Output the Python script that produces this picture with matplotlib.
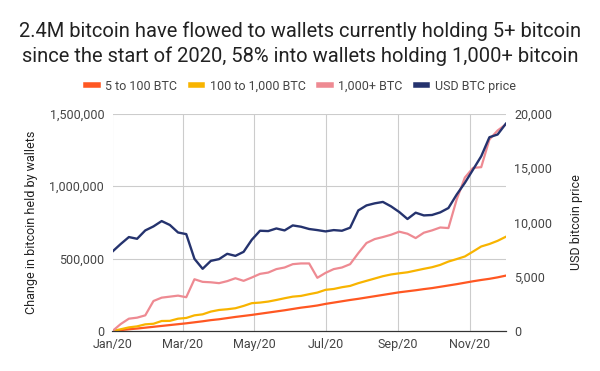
import matplotlib
matplotlib.use('Agg')
import matplotlib.pyplot as plt
import matplotlib.dates as mdates
from matplotlib.ticker import FuncFormatter
import pandas as pd

plt.rcParams['font.family'] = ['Roboto', 'DejaVu Sans']

# weekly observations, Jan 1 -> Dec 2 2020
dates = pd.date_range('2020-01-01', periods=49, freq='7D')

small = [0, 6000, 12000, 17000, 23000, 29000, 35000, 41000, 47000, 53000,
         60000, 67000, 75000, 81000, 89000, 97000, 104000, 111000, 119000, 127000,
         135000, 143000, 152000, 161000, 168000, 176000, 187000, 196000, 205000, 214000,
         222000, 231000, 240000, 249000, 258000, 267000, 274000, 281000, 289000, 296000,
         305000, 314000, 323000, 333000, 343000, 352000, 360000, 370000, 382000]

medium = [0, 12000, 25000, 32000, 46000, 50000, 69000, 70000, 85000, 90000,
          108000, 115000, 134000, 145000, 150000, 157000, 173000, 192000, 196000, 203000,
          214000, 226000, 237000, 242000, 254000, 265000, 284000, 290000, 302000, 311000,
          330000, 346000, 362000, 378000, 390000, 398000, 405000, 417000, 429000, 440000,
          456000, 479000, 496000, 514000, 548000, 583000, 600000, 622000, 650000]

large = [0, 48000, 85000, 92000, 108000, 207000, 230000, 237000, 244000, 233000,
         357000, 339000, 336000, 330000, 344000, 364000, 346000, 369000, 394000, 403000,
         427000, 438000, 461000, 466000, 466000, 367000, 401000, 427000, 438000, 461000,
         537000, 607000, 634000, 648000, 664000, 685000, 671000, 641000, 678000, 694000,
         714000, 710000, 906000, 1058000, 1125000, 1130000, 1321000, 1383000, 1425000]

price = [7310, 8000, 8640, 8480, 9250, 9620, 10110, 9750, 9060, 8910,
         6640, 5720, 6450, 6610, 7100, 6910, 7280, 8390, 9220, 9190,
         9430, 9250, 9710, 9590, 9380, 9280, 9160, 9280, 9220, 9500,
         11090, 11550, 11740, 11870, 11460, 10940, 10300, 10880, 10630, 10670,
         10910, 11310, 12540, 13620, 14840, 16070, 17820, 18070, 19060]

labels = ['5 to 100 BTC', '100 to 1,000 BTC', '1,000+ BTC', 'USD BTC price']
colors = ['#FF5722', '#F8B400', '#EE8A92', '#25336E']

text_col = '#444444'

fig = plt.figure(figsize=(6, 3.71), dpi=100)
ax = fig.add_axes([0.1875, 0.1078, 0.6555, 0.5862])
ax2 = ax.twinx()

l1, = ax.plot(dates, small, color=colors[0], lw=1.6, label=labels[0])
l2, = ax.plot(dates, medium, color=colors[1], lw=1.6, label=labels[1])
l3, = ax.plot(dates, large, color=colors[2], lw=1.6, label=labels[2])
l4, = ax2.plot(dates, price, color=colors[3], lw=1.7, label=labels[3])

ax.set_ylim(0, 1500000)
ax2.set_ylim(0, 20000)
ax.set_yticks([0, 500000, 1000000, 1500000])
ax2.set_yticks([0, 5000, 10000, 15000, 20000])
ax.yaxis.set_major_formatter(FuncFormatter(lambda v, p: f'{int(v):,}'))
ax2.yaxis.set_major_formatter(FuncFormatter(lambda v, p: f'{int(v):,}'))

ax.set_xlim(dates[0], dates[-1])
ax.xaxis.set_major_locator(mdates.MonthLocator(bymonth=[1, 3, 5, 7, 9, 11]))
ax.xaxis.set_major_formatter(mdates.DateFormatter('%b/%y'))

ax.grid(True, color='#cccccc', lw=0.8)
ax.set_axisbelow(True)
for a in (ax, ax2):
    for s in ('top', 'left', 'right'):
        a.spines[s].set_visible(False)
    a.spines['bottom'].set_color('#333333')
    a.tick_params(length=0, labelsize=9, labelcolor=text_col)
ax.tick_params(axis='y', pad=6)
ax2.tick_params(axis='y', pad=6)
ax.tick_params(axis='x', pad=5)

ax.set_ylabel('Change in bitcoin held by wallets', fontsize=9, color='#222222', labelpad=8)
ax2.set_ylabel('USD bitcoin price', fontsize=9, color='#222222', labelpad=13)

fig.text(0.5, 0.882, '2.4M bitcoin have flowed to wallets currently holding 5+ bitcoin\n'
         'since the start of 2020, 58% into wallets holding 1,000+ bitcoin',
         ha='center', va='center', fontsize=14.5, color='#222222', linespacing=1.3)

fig.legend(handles=[l1, l2, l3, l4], loc='center', bbox_to_anchor=(0.502, 0.768),
           ncol=4, frameon=False, fontsize=9, handlelength=0.9, handletextpad=0.6,
           columnspacing=1.1, labelcolor=text_col)
for h in fig.legends[0].legend_handles:
    h.set_linewidth(4)

fig.savefig('out.png', dpi=100, facecolor='white')
